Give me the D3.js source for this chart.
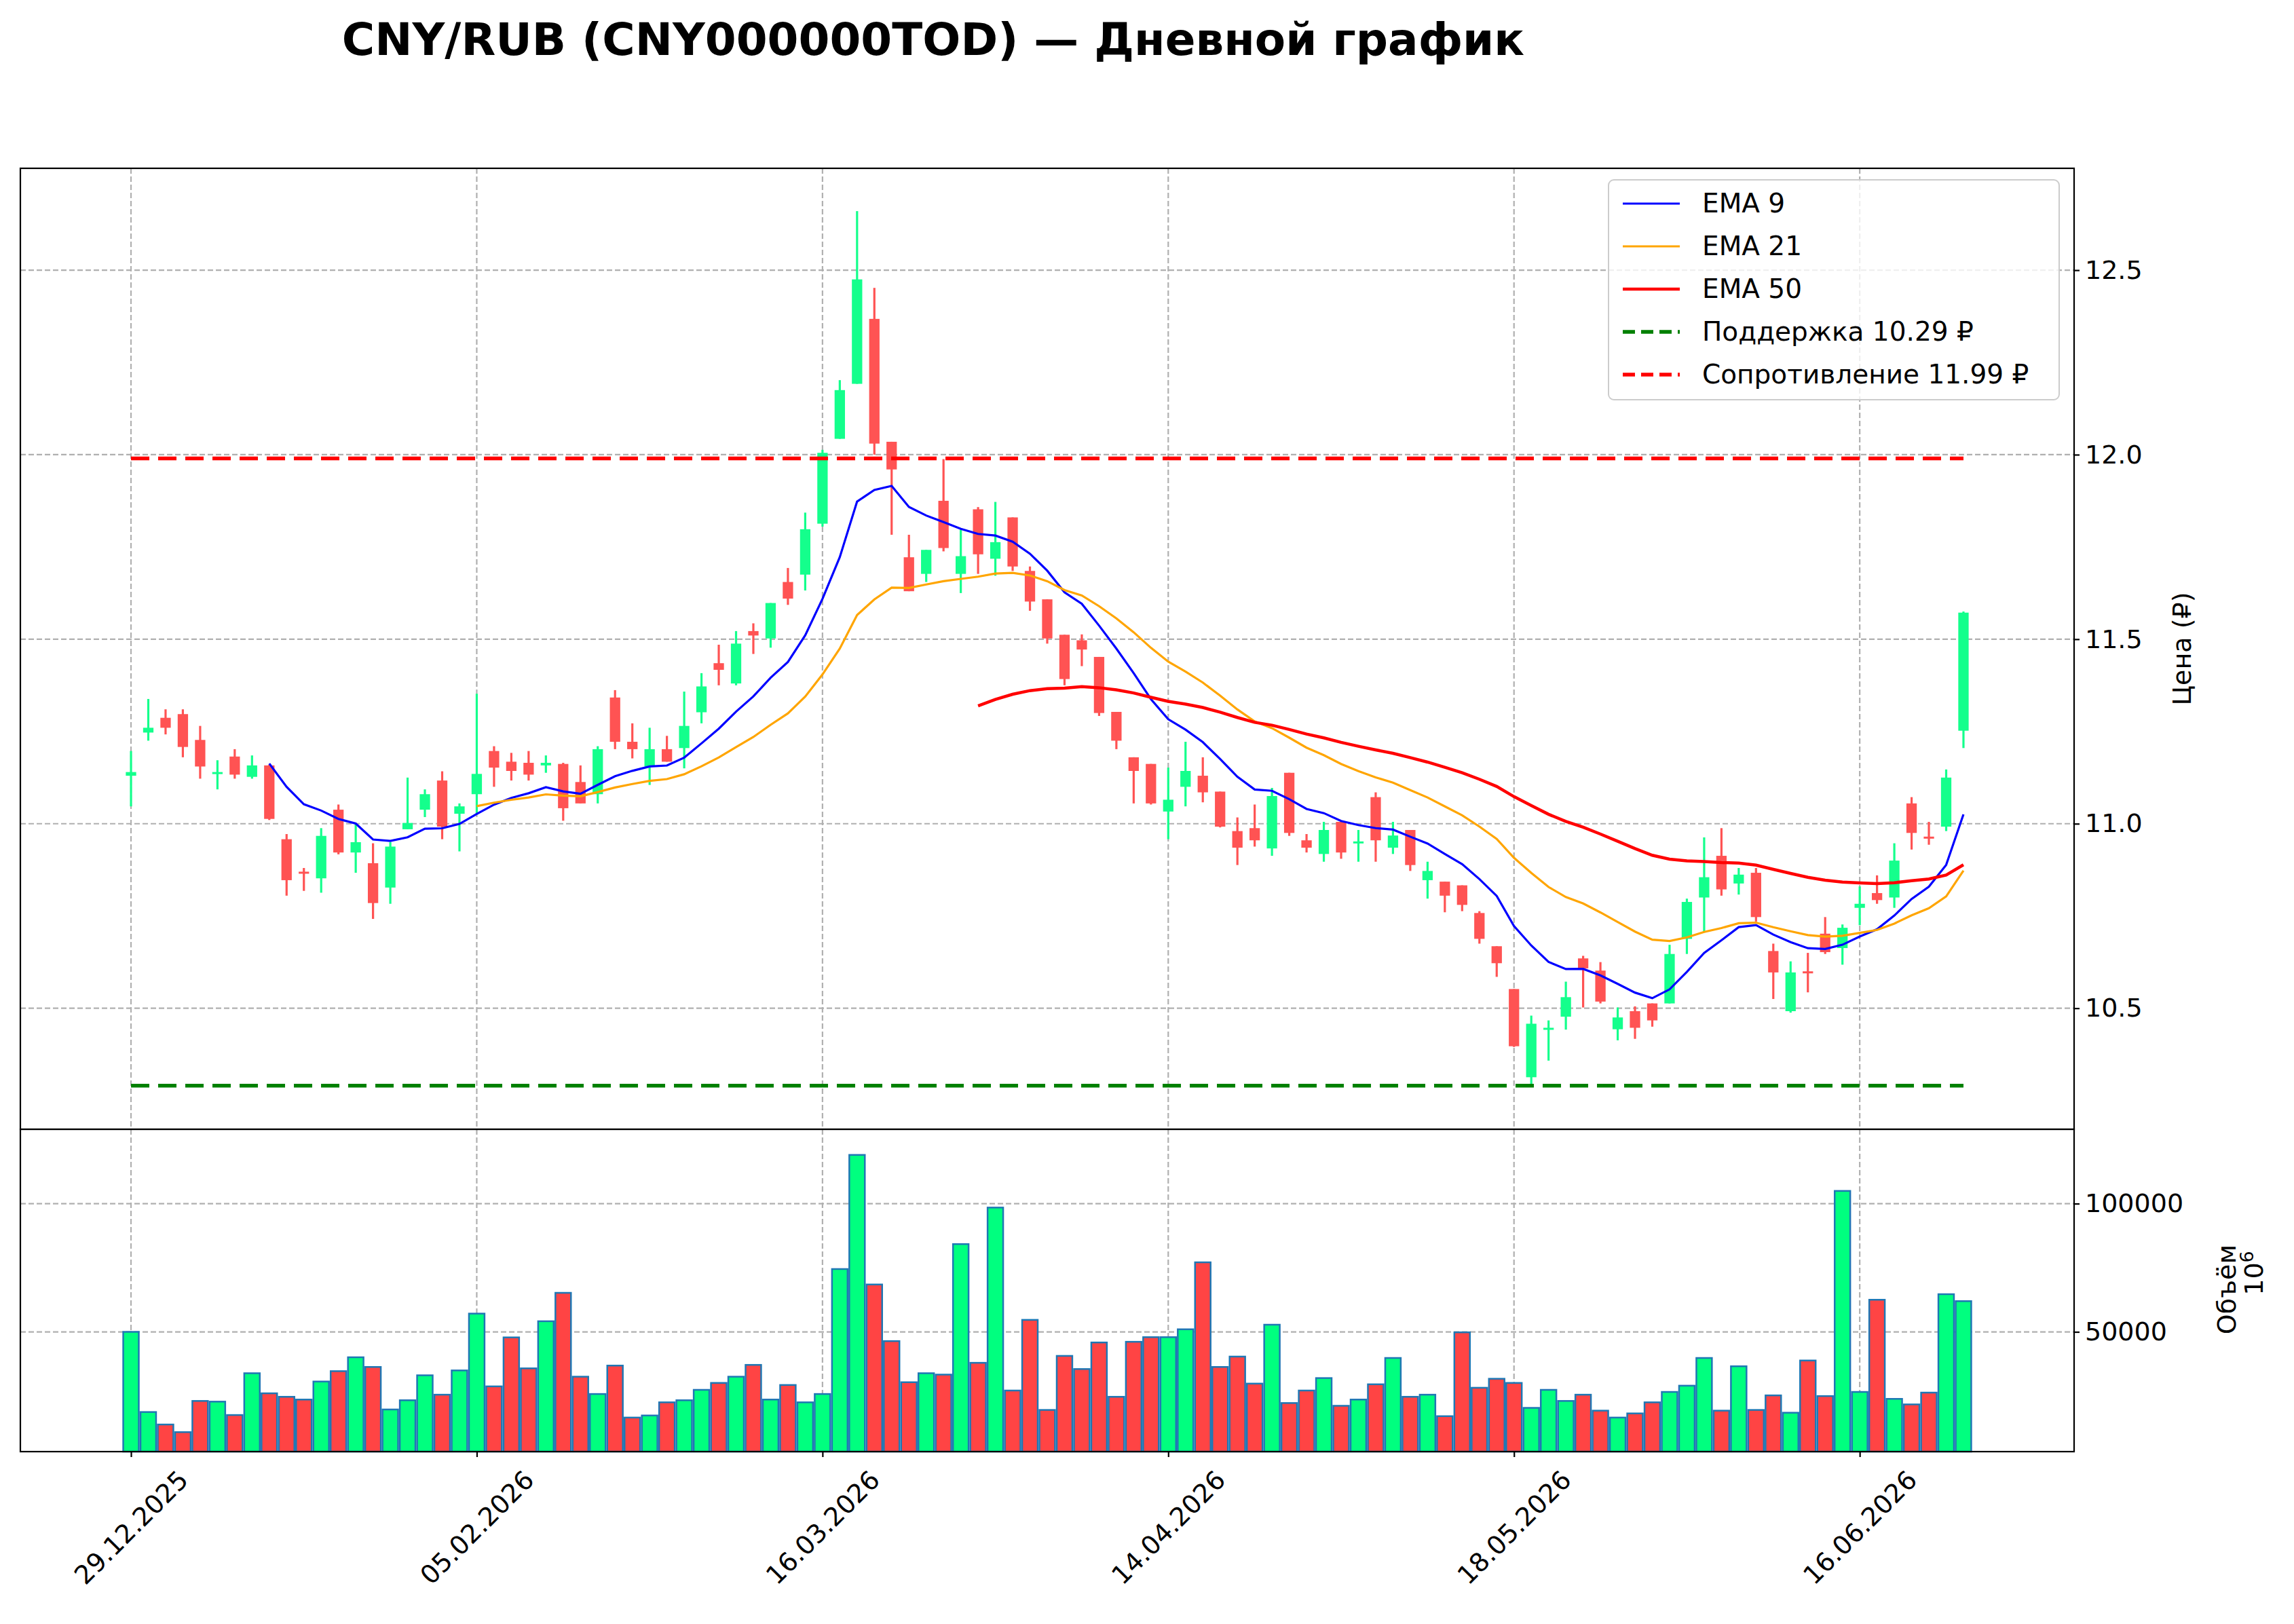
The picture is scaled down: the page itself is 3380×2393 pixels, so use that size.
<!DOCTYPE html>
<html><head><meta charset="utf-8">
<script src="https://cdn.jsdelivr.net/npm/d3@7"></script>
<style>body{margin:0;background:#fff}svg{display:block}text{font-family:"DejaVu Sans",sans-serif}</style>
</head><body><svg id="c" width="3380" height="2393"></svg>
<script>
const openP=[11.13,11.247,11.287,11.297,11.227,11.135,11.182,11.127,11.158,10.958,10.87,10.852,11.038,10.922,10.893,10.827,10.985,11.038,11.117,11.027,11.08,11.197,11.168,11.165,11.158,11.162,11.113,11.08,11.342,11.222,11.155,11.202,11.205,11.302,11.435,11.38,11.522,11.502,11.655,11.675,11.813,12.043,12.192,12.368,12.035,11.722,11.677,11.875,11.677,11.852,11.718,11.83,11.685,11.608,11.512,11.497,11.452,11.303,11.18,11.162,11.033,11.1,11.13,11.087,10.98,10.988,10.933,11.138,10.955,10.918,11.005,10.948,11.072,10.935,10.983,10.847,10.843,10.833,10.758,10.668,10.552,10.313,10.443,10.477,10.635,10.602,10.443,10.492,10.513,10.513,10.688,10.8,10.913,10.838,10.867,10.655,10.492,10.6,10.702,10.663,10.772,10.812,10.8,11.055,10.965,10.992,11.252];
const highP=[11.197,11.338,11.31,11.31,11.265,11.172,11.202,11.185,11.16,10.972,10.88,10.988,11.052,11.002,10.947,10.95,11.125,11.093,11.142,11.055,11.352,11.21,11.192,11.197,11.185,11.165,11.158,11.21,11.362,11.272,11.26,11.238,11.358,11.408,11.485,11.522,11.543,11.598,11.693,11.843,12.013,12.202,12.66,12.452,12.035,11.783,11.742,11.988,11.797,11.858,11.872,11.83,11.697,11.608,11.512,11.513,11.452,11.303,11.18,11.162,11.152,11.222,11.18,11.087,11.017,11.052,11.097,11.138,10.972,11.005,11.005,10.983,11.085,11.005,10.983,10.897,10.843,10.833,10.763,10.668,10.552,10.48,10.467,10.572,10.642,10.625,10.502,10.505,10.513,10.672,10.797,10.963,10.988,10.88,10.88,10.675,10.627,10.65,10.747,10.727,10.83,10.86,10.947,11.072,11.005,11.147,11.575];
const lowP=[11.047,11.225,11.242,11.18,11.122,11.093,11.122,11.122,11.01,10.805,10.818,10.813,10.917,10.867,10.742,10.783,10.985,11.018,10.958,10.925,11.025,11.10,11.117,11.117,11.138,11.008,11.055,11.055,11.202,11.177,11.105,11.168,11.15,11.272,11.375,11.375,11.46,11.477,11.593,11.632,11.805,12.043,12.192,12.0,11.783,11.63,11.655,11.738,11.625,11.677,11.672,11.685,11.577,11.488,11.375,11.427,11.292,11.202,11.055,11.052,10.958,11.047,11.058,10.99,10.888,10.938,10.913,10.967,10.922,10.897,10.905,10.897,10.897,10.918,10.872,10.797,10.76,10.763,10.675,10.585,10.395,10.288,10.358,10.442,10.502,10.513,10.413,10.417,10.45,10.513,10.647,10.705,10.805,10.808,10.735,10.525,10.488,10.543,10.647,10.618,10.725,10.783,10.772,10.93,10.943,10.98,11.205];
const closeP=[11.14,11.26,11.26,11.208,11.155,11.14,11.133,11.158,11.013,10.847,10.865,10.967,10.922,10.95,10.785,10.938,11.002,11.08,10.992,11.047,11.135,11.152,11.143,11.133,11.165,11.042,11.055,11.202,11.222,11.202,11.202,11.168,11.265,11.372,11.417,11.488,11.51,11.598,11.61,11.798,12.005,12.175,12.475,12.03,11.96,11.63,11.742,11.747,11.725,11.73,11.763,11.697,11.602,11.502,11.392,11.472,11.3,11.225,11.143,11.055,11.065,11.143,11.085,10.992,10.935,10.955,11.075,10.975,10.935,10.983,10.922,10.952,10.955,10.968,10.888,10.872,10.805,10.78,10.688,10.622,10.397,10.458,10.447,10.53,10.608,10.518,10.475,10.447,10.467,10.647,10.788,10.855,10.822,10.862,10.747,10.597,10.597,10.597,10.652,10.718,10.783,10.793,10.9,10.975,10.963,11.125,11.572];
const volume=[50000,18740,13870,10900,23060,22790,17570,33870,26040,24680,23600,30630,34680,40090,36310,19730,23330,33060,25500,34960,57120,28740,47840,35770,54140,65220,32520,25770,36850,16580,17390,22520,23330,27390,30090,32520,37120,23600,29280,22520,25770,74500,119000,68470,46400,30360,33870,33330,84230,37930,98470,27120,54680,19550,40630,35500,45860,24680,46130,47930,47930,51000,77120,36310,40360,29820,52790,22250,27120,31980,21170,23600,29550,39820,24680,25500,17120,49820,28200,31710,30090,20360,27390,23060,25500,19280,16580,18200,22520,26580,29010,39820,19280,36580,19550,25230,18470,38830,24960,104960,26580,62520,23870,21710,26310,64690,61980];
const tickIdx=[0,20,40,60,80,100];
const tickLabels=["29.12.2025","05.02.2026","16.03.2026","14.04.2026","18.05.2026","16.06.2026"];
const priceTicks=[10.5,11.0,11.5,12.0,12.5];
const volTicks=[50000,100000];
const support=10.29, resistance=11.99;
const emaSpans=[9,21,50];
const emaColors=["#0000ff","#ffa500","#ff0000"];
const emaWidths=[3.2,3.2,4.5];
const title="CNY/RUB (CNY000000TOD) — Дневной график";

const N=closeP.length;
function ema(vals,span){const a=2/(span+1);let e=null;return vals.map((v,i)=>{
  if(i<span-1)return null;
  if(i===span-1){e=d3.mean(vals.slice(0,span));return e;}
  e=a*v+(1-a)*e;return e;});}

const svg=d3.select("#c");
const L=30,R=3056,T=248,M=1664,B=2139;
const x=d3.scaleLinear().domain([-6.4,N-1+6.4]).range([L,R]);
const y=d3.scaleLinear().domain([10.172,12.776]).range([M,T]);
const yv=d3.scaleLinear().domain([3300,129000]).range([B,M]);
const bw=x(1)-x(0);
const green="#14ff8c",red="#ff5353";
const FS=38;

svg.append("text").attr("x",1375).attr("y",81).attr("text-anchor","middle").attr("font-size",66).attr("font-weight","bold").text(title);

const grid=svg.append("g").attr("stroke","#b0b0b0").attr("stroke-width",2.2).attr("stroke-dasharray","8,4");
tickIdx.forEach(i=>{grid.append("line").attr("x1",x(i)).attr("x2",x(i)).attr("y1",T).attr("y2",B);});
priceTicks.forEach(p=>grid.append("line").attr("x1",L).attr("x2",R).attr("y1",y(p)).attr("y2",y(p)));
volTicks.forEach(p=>grid.append("line").attr("x1",L).attr("x2",R).attr("y1",yv(p)).attr("y2",yv(p)));

const cg=svg.append("g");
for(let i=0;i<N;i++){
  const up=closeP[i]>=openP[i], col=up?green:red;
  cg.append("line").attr("x1",x(i)).attr("x2",x(i)).attr("y1",y(highP[i])).attr("y2",y(lowP[i])).attr("stroke",col).attr("stroke-width",3.2);
  const t=y(Math.max(openP[i],closeP[i])),b=y(Math.min(openP[i],closeP[i]));
  cg.append("rect").attr("x",x(i)-bw*0.3).attr("width",bw*0.6).attr("y",t).attr("height",Math.max(b-t,3)).attr("fill",col);
}
emaSpans.forEach((s,k)=>{
  const e=ema(closeP,s);
  const line=d3.line().defined(d=>d!=null).x((d,i)=>x(i)).y(d=>y(d));
  svg.append("path").datum(e).attr("d",line).attr("fill","none").attr("stroke",emaColors[k]).attr("stroke-width",emaWidths[k]);
});
svg.append("line").attr("x1",x(0)).attr("x2",x(N-1)).attr("y1",y(resistance)).attr("y2",y(resistance)).attr("stroke","#ff0000").attr("stroke-width",5.5).attr("stroke-dasharray","27,13");
svg.append("line").attr("x1",x(0)).attr("x2",x(N-1)).attr("y1",y(support)).attr("y2",y(support)).attr("stroke","#008000").attr("stroke-width",5.5).attr("stroke-dasharray","27,13");

const vg=svg.append("g");
for(let i=0;i<N;i++){
  const up=closeP[i]>=openP[i];
  vg.append("rect").attr("x",x(i)-bw*0.45).attr("width",bw*0.9).attr("y",yv(volume[i])).attr("height",B-yv(volume[i])).attr("fill",up?"#00ff7f":"#ff4444").attr("stroke","#1f77b4").attr("stroke-width",2.5);
}

svg.append("rect").attr("x",L).attr("y",T).attr("width",R-L).attr("height",M-T).attr("fill","none").attr("stroke","#000").attr("stroke-width",2.2);
svg.append("rect").attr("x",L).attr("y",M).attr("width",R-L).attr("height",B-M).attr("fill","none").attr("stroke","#000").attr("stroke-width",2.2);

const ya=svg.append("g").attr("transform",`translate(${R},0)`).call(d3.axisRight(y).tickValues(priceTicks).tickFormat(d3.format(".1f")).tickSize(8).tickPadding(8));
const yva=svg.append("g").attr("transform",`translate(${R},0)`).call(d3.axisRight(yv).tickValues(volTicks).tickFormat(d3.format("d")).tickSize(8).tickPadding(8));
const xa=svg.append("g").attr("transform",`translate(0,${B})`).call(d3.axisBottom(x).tickValues(tickIdx).tickFormat((d,i)=>tickLabels[i]).tickSize(8));
[ya,yva,xa].forEach(g=>{g.select(".domain").remove();g.selectAll("line").attr("stroke-width",2.2);g.selectAll("text").attr("font-size",FS).attr("font-family","DejaVu Sans").attr("fill","#000");});
xa.selectAll(".tick text").attr("text-anchor","middle").attr("dy",0).attr("y",0).attr("x",0).attr("dominant-baseline","central")
  .attr("transform","translate(0,112) rotate(-45)");

svg.append("text").attr("transform",`translate(3228,${(T+M)/2}) rotate(-90)`).attr("text-anchor","middle").attr("font-size",FS).text("Цена (₽)");
svg.append("text").attr("transform",`translate(3294,1900) rotate(-90)`).attr("text-anchor","middle").attr("font-size",FS).text("Объём");
svg.append("text").attr("transform",`translate(3334,1876) rotate(-90)`).attr("text-anchor","middle").attr("font-size",FS).html('10<tspan dy="-14" font-size="27">6</tspan>');

const lg=svg.append("g");
lg.append("rect").attr("x",2370).attr("y",265).attr("width",664).attr("height",324).attr("rx",8).attr("fill","#fff").attr("fill-opacity",0.8).attr("stroke","#cccccc").attr("stroke-width",2);
const items=[["EMA 9","#0000ff",3.2,null],["EMA 21","#ffa500",3.2,null],["EMA 50","#ff0000",4.5,null],["Поддержка 10.29 ₽","#008000",5.5,"18,9"],["Сопротивление 11.99 ₽","#ff0000",5.5,"18,9"]];
items.forEach((it,k)=>{const yy=300+k*63;
  lg.append("line").attr("x1",2391).attr("x2",2475).attr("y1",yy).attr("y2",yy).attr("stroke",it[1]).attr("stroke-width",it[2]).attr("stroke-dasharray",it[3]);
  lg.append("text").attr("x",2508).attr("y",yy+13).attr("font-size",39).text(it[0]);});
</script></body></html>
